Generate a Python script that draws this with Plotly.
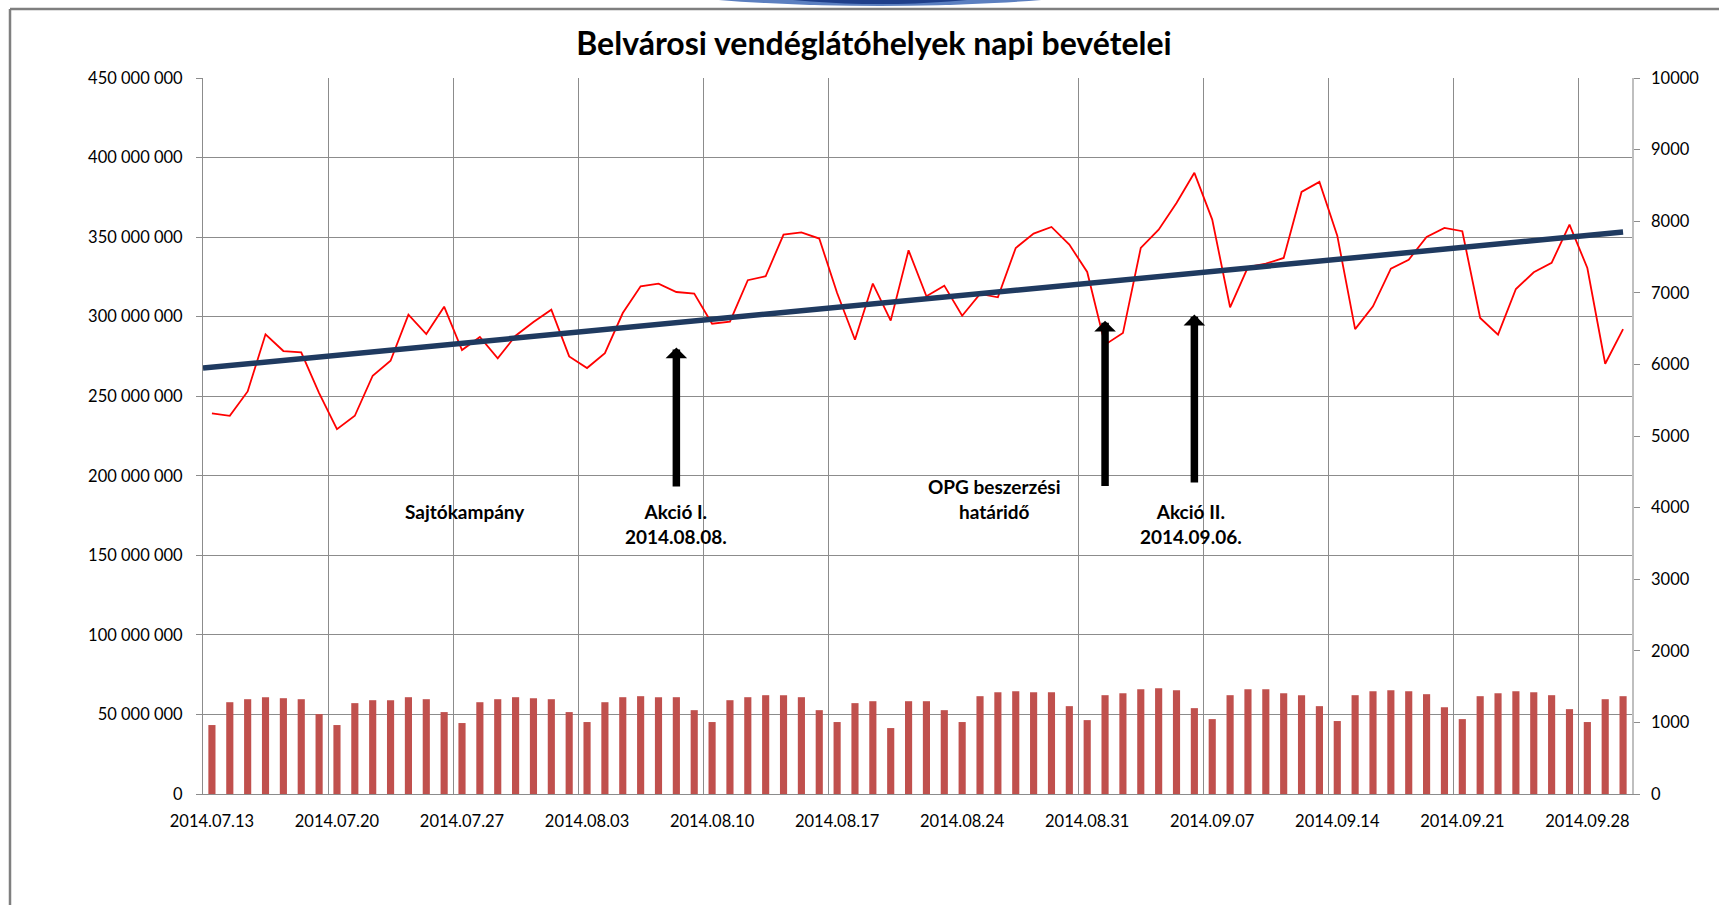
import plotly.graph_objects as go
import pandas as pd

# ---------------- data ----------------
dates = pd.date_range("2014-07-13", periods=80, freq="D")

# daily revenue (HUF, millions) - red line, left axis
revenue_m = [239.2, 237.7, 253.0, 288.9, 278.4, 277.6, 252.0,
             229.3, 237.7, 262.9, 272.3, 301.3, 289.1, 306.3,
             279.0, 287.2, 273.8, 288.0, 296.6, 304.4, 275.0,
             267.7, 277.1, 302.3, 319.1, 320.8, 315.5, 314.5,
             295.6, 296.9, 322.9, 325.4, 351.6, 353.0, 349.1,
             314.9, 285.5, 320.8, 297.5, 341.7, 312.8, 319.5,
             300.6, 314.3, 312.2, 343.2, 352.2, 356.4, 345.3,
             328.1, 282.4, 289.7, 343.2, 354.7, 371.5, 390.4,
             361.0, 305.9, 331.2, 333.3, 336.9, 378.4, 384.7,
             350.9, 292.2, 306.5, 330.2, 335.8, 350.1, 355.8,
             353.7, 299.2, 288.7, 317.4, 327.9, 333.8, 357.9,
             330.6, 270.4, 292.2]

# daily counts - bars, right axis
bar_values = [963, 1282, 1324, 1352, 1338, 1324, 1116,
              963, 1269, 1310, 1310, 1352, 1324, 1144,
              991, 1282, 1324, 1352, 1338, 1324, 1144,
              1005, 1282, 1352, 1366, 1352, 1352, 1171,
              1005, 1310, 1352, 1380, 1380, 1352, 1171,
              1005, 1269, 1296, 921, 1296, 1296, 1171,
              1005, 1366, 1421, 1435, 1421, 1421, 1227,
              1032, 1380, 1407, 1463, 1477, 1449, 1199,
              1046, 1380, 1463, 1463, 1407, 1380, 1227,
              1019, 1380, 1435, 1449, 1435, 1394, 1213,
              1046, 1366, 1407, 1435, 1421, 1380, 1185,
              1005, 1324, 1366]

# linear trend (HUF, millions) at start / end
trend_values_m = [267.7, 353.2]

tick_dates = ["2014-07-13", "2014-07-20", "2014-07-27", "2014-08-03",
              "2014-08-10", "2014-08-17", "2014-08-24", "2014-08-31",
              "2014-09-07", "2014-09-14", "2014-09-21", "2014-09-28"]
tick_labels = ["2014.07.13", "2014.07.20", "2014.07.27", "2014.08.03",
               "2014.08.10", "2014.08.17", "2014.08.24", "2014.08.31",
               "2014.09.07", "2014.09.14", "2014.09.21", "2014.09.28"]

left_ticks = [0, 50e6, 100e6, 150e6, 200e6, 250e6, 300e6, 350e6, 400e6, 450e6]
right_ticks = [0, 1000, 2000, 3000, 4000, 5000, 6000, 7000, 8000, 9000, 10000]

# events (arrows)
arrow_dates = ["2014-08-08", "2014-09-01", "2014-09-06"]
arrow_tip_m = [280.7, 297.5, 301.3]
arrow_tail_m = [192.3, 192.6, 194.8]

event_labels = ["Sajtókampány", "Akció I.<br>2014.08.08.",
                "OPG beszerzési<br>határidő", "Akció II.<br>2014.09.06."]

title_text = "Belvárosi vendéglátóhelyek napi bevételei"

# ---------------- geometry helpers ----------------
W, H = 1719, 905
ML, MR, MT, MB = 203, 87, 78, 111
PW, PH = W - ML - MR, H - MT - MB


def pxx(px):
    return (px - ML) / PW


def pxy(py):
    return (H - MB - py) / PH


half_day = pd.Timedelta(hours=12)
revenue = [v * 1e6 for v in revenue_m]
trend_x = [dates[0] - half_day, dates[-1]]
trend_y = [v * 1e6 for v in trend_values_m]

# week-boundary gridlines (the 08.24 one is absent in the original)
grid_dates = [pd.Timestamp(d) - half_day for d in tick_dates[1:] if d != "2014-08-24"]

GRID = "#8C8C8C"
FONT = "Lato"

fig = go.Figure()
fig.add_trace(go.Bar(x=dates, y=bar_values, yaxis="y2",
                     marker=dict(color="#C0504D", line=dict(width=0)),
                     width=0.4 * 86400000, hoverinfo="x+y"))
fig.add_trace(go.Scatter(x=dates, y=revenue, mode="lines",
                         line=dict(color="#FF0000", width=1.8)))
fig.add_trace(go.Scatter(x=trend_x, y=trend_y, mode="lines",
                         line=dict(color="#1F3A60", width=5.5)))

annotations = []
for d, tip, tail in zip(arrow_dates, arrow_tip_m, arrow_tail_m):
    annotations.append(dict(x=d, y=tip * 1e6, ax=d, ay=tail * 1e6,
                            xref="x", yref="y", axref="x", ayref="y",
                            text="", showarrow=True, arrowhead=1,
                            arrowsize=0.48, arrowwidth=7.5, arrowcolor="#000000",
                            standoff=0, startstandoff=0))

label_pos = [(465, 511), (676, 523.5), (994, 498.5), (1191, 523.5)]
for txt, (px, py) in zip(event_labels, label_pos):
    annotations.append(dict(x=pxx(px), y=pxy(py), xref="paper", yref="paper",
                            text=txt, showarrow=False, xanchor="center",
                            yanchor="middle", align="center",
                            font=dict(family=FONT, size=19, color="#000000",
                                      weight="bold")))

shapes = [
    # blue decoration at the top
    dict(type="circle", xref="paper", yref="paper",
         x0=pxx(581), x1=pxx(1179), y0=pxy(6), y1=pxy(-70),
         fillcolor="#5B7FC0", line=dict(width=0), layer="above"),
    dict(type="circle", xref="paper", yref="paper",
         x0=pxx(700), x1=pxx(1060), y0=pxy(4), y1=pxy(-60),
         fillcolor="#1F3F8A", line=dict(width=0), layer="above"),
    # frame lines
    dict(type="line", xref="paper", yref="paper",
         x0=pxx(10), x1=pxx(1725), y0=pxy(9), y1=pxy(9),
         line=dict(color="#7F7F7F", width=2.5)),
    dict(type="line", xref="paper", yref="paper",
         x0=pxx(10), x1=pxx(10), y0=pxy(9), y1=pxy(910),
         line=dict(color="#7F7F7F", width=2.5)),
]

fig.update_layout(
    width=W, height=H,
    margin=dict(l=ML, r=MR, t=MT, b=MB, pad=0),
    paper_bgcolor="white", plot_bgcolor="white",
    showlegend=False,
    separators=", ",
    font=dict(family=FONT, size=16.5, color="#000000"),
    title=dict(text=title_text, x=pxx(874), xref="paper", xanchor="center",
               y=1 - 44 / H, yref="container", yanchor="middle",
               font=dict(family=FONT, size=32, color="#000000", weight="bold")),
    xaxis=dict(type="date",
               range=[dates[0] - half_day, dates[-1] + half_day],
               tickmode="array", tickvals=tick_dates, ticktext=tick_labels,
               showgrid=False, ticks="", showline=True, linecolor=GRID,
               linewidth=1, zeroline=False,
               tickfont=dict(family=FONT, size=16.5, color="#000000"),
               ticklabelstandoff=12,
               minor=dict(tickmode="array", tickvals=grid_dates, showgrid=True,
                          gridcolor=GRID, gridwidth=1, ticks="")),
    yaxis=dict(range=[0, 450e6], tickmode="array", tickvals=left_ticks,
               tickformat=",.0f", showgrid=True, gridcolor=GRID, gridwidth=1,
               showline=True, linecolor=GRID, linewidth=1, zeroline=False,
               ticks="outside", ticklen=6, tickcolor=GRID,
               ticklabelstandoff=10,
               tickfont=dict(family=FONT, size=16.5, color="#000000")),
    yaxis2=dict(range=[0, 10000], overlaying="y", side="right",
                tickmode="array", tickvals=right_ticks, tickformat="d",
                showgrid=False, showline=True, linecolor="#BFBFBF",
                linewidth=1.5, zeroline=False,
                ticks="outside", ticklen=6, tickcolor=GRID,
                ticklabelstandoff=8,
                tickfont=dict(family=FONT, size=16.5, color="#000000")),
    annotations=annotations,
    shapes=shapes,
)

fig.write_html("out.html",
               config={"displayModeBar": False},
               post_script="document.body.style.margin='0';"
                           "document.body.style.overflow='hidden';")
